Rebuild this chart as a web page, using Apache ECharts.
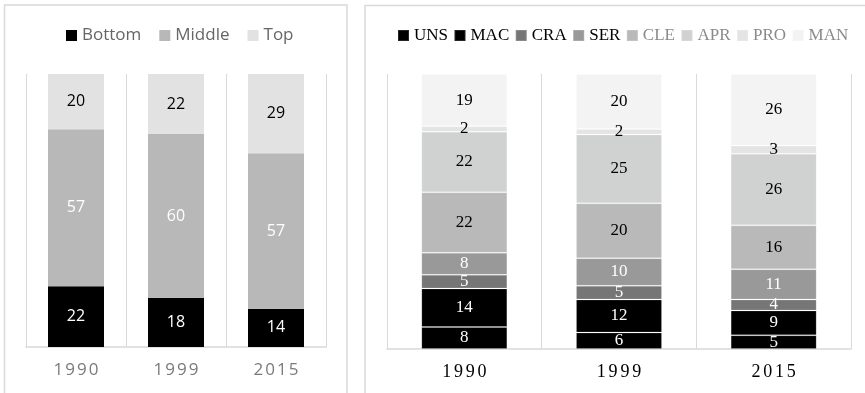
<!DOCTYPE html>
<html>
<head>
<meta charset="utf-8">
<script src="https://cdn.jsdelivr.net/npm/echarts@6/dist/echarts.min.js"></script>
<style>
  html, body { margin: 0; padding: 0; background: #fff; }
  #chart { width: 865px; height: 393px; }
</style>
</head>
<body>
<div id="chart"></div>
<script>
// Survey years shared by both panels
const years = ['1990', '1999', '2015'];

// Left panel: skill level shares
const levelNames = ['Bottom', 'Middle', 'Top'];
const levelBottom = [22, 18, 14];
const levelMiddle = [57, 60, 57];
const levelTop = [20, 22, 29];
const levelColors = ['#000000', '#b8b8b8', '#e2e2e2'];
const levelLabelColors = ['#ffffff', '#ffffff', '#000000'];

// Right panel: occupation group shares
const occNames = ['UNS', 'MAC', 'CRA', 'SER', 'CLE', 'APR', 'PRO', 'MAN'];
const occUNS = [8, 6, 5];
const occMAC = [14, 12, 9];
const occCRA = [5, 5, 4];
const occSER = [8, 10, 11];
const occCLE = [22, 20, 16];
const occAPR = [22, 25, 26];
const occPRO = [2, 2, 3];
const occMAN = [19, 20, 26];
const occColors = ['#000000', '#000000', '#767676', '#999999', '#b9b9b9', '#d0d1d1', '#e4e4e4', '#f3f3f3'];
const occLabelColors = ['#ffffff', '#ffffff', '#ffffff', '#ffffff', '#000000', '#000000', '#000000', '#000000'];
const occLegendColors = ['#000000', '#000000', '#000000', '#000000', '#8a8a8a', '#8a8a8a', '#8a8a8a', '#8a8a8a'];

const levelSeriesData = [levelBottom, levelMiddle, levelTop];
const occSeriesData = [occUNS, occMAC, occCRA, occSER, occCLE, occAPR, occPRO, occMAN];

// Convert raw values into 100%-stacked shares, keeping raw values for labels
function shares(groups) {
  const totals = years.map((_, i) => groups.reduce((s, g) => s + g[i], 0));
  return groups.map(g => g.map((v, i) => ({ value: v / totals[i] * 100, raw: v })));
}
const levelShares = shares(levelSeriesData);
const occShares = shares(occSeriesData);

const sansFont = '"Open Sans", "Liberation Sans", sans-serif';
const serifFont = '"Liberation Serif", "DejaVu Serif", serif';

// Spread digits of the year labels apart slightly
function spaced(v) {
  return v.split('').map(c => '{d|' + c + '}').join('');
}

const series = [];
levelNames.forEach((name, k) => {
  series.push({
    name: name,
    type: 'bar',
    stack: 'levels',
    xAxisIndex: 0,
    yAxisIndex: 0,
    barWidth: '56%',
    data: levelShares[k],
    itemStyle: { color: levelColors[k] },
    label: {
      show: true,
      position: 'inside',
      color: levelLabelColors[k],
      fontFamily: sansFont,
      fontSize: 16,
      formatter: p => String(p.data.raw)
    },
    emphasis: { disabled: true }
  });
});
occNames.forEach((name, k) => {
  series.push({
    name: name,
    type: 'bar',
    stack: 'occ',
    xAxisIndex: 1,
    yAxisIndex: 1,
    barWidth: '55.6%',
    data: occShares[k],
    itemStyle: {
      color: occColors[k],
      borderColor: 'rgba(255,255,255,0.15)',
      borderWidth: 1
    },
    label: {
      show: true,
      position: 'inside',
      color: occLabelColors[k],
      fontFamily: serifFont,
      fontSize: 17,
      formatter: p => String(p.data.raw)
    },
    emphasis: { disabled: true }
  });
});

const gridLine = '#d9d9d9';

const option = {
  animation: false,
  backgroundColor: '#ffffff',
  graphic: [
    {
      type: 'rect',
      shape: { x: 4.5, y: 5, width: 342.5, height: 410 },
      style: { fill: 'none', stroke: gridLine, lineWidth: 1.5 },
      silent: true
    },
    {
      type: 'rect',
      shape: { x: 365, y: 5.5, width: 520, height: 410 },
      style: { fill: 'none', stroke: gridLine, lineWidth: 1.5 },
      silent: true
    }
  ],
  legend: [
    {
      data: levelNames,
      left: 66,
      top: 27,
      padding: 0,
      itemWidth: 11,
      itemHeight: 11,
      itemGap: 18,
      icon: 'rect',
      selectedMode: false,
      textStyle: { color: '#666666', fontFamily: sansFont, fontSize: 17 }
    },
    {
      data: occNames.map((n, k) => ({ name: n, textStyle: { color: occLegendColors[k] } })),
      left: 397,
      top: 27,
      width: 468,
      padding: 0,
      itemWidth: 11,
      itemHeight: 11,
      itemGap: 5.5,
      icon: 'rect',
      selectedMode: false,
      textStyle: { fontFamily: serifFont, fontSize: 17 }
    }
  ],
  grid: [
    { left: 26, right: 539, top: 74, bottom: 46 },
    { left: 387, right: 14, top: 74, bottom: 44 }
  ],
  xAxis: [
    {
      type: 'category',
      gridIndex: 0,
      data: years,
      axisLine: { lineStyle: { color: gridLine, width: 1.5 } },
      axisTick: { show: false },
      splitLine: { show: true, lineStyle: { color: gridLine, width: 1 } },
      axisLabel: {
        interval: 0,
        margin: 15,
        formatter: spaced,
        rich: {
          d: { color: '#7a7a7a', fontFamily: sansFont, fontSize: 17, padding: [0, 1] }
        }
      }
    },
    {
      type: 'category',
      gridIndex: 1,
      data: years,
      axisLine: { lineStyle: { color: gridLine, width: 1.5 } },
      axisTick: { show: false },
      splitLine: { show: true, lineStyle: { color: gridLine, width: 1 } },
      axisLabel: {
        interval: 0,
        margin: 14,
        formatter: spaced,
        rich: {
          d: { color: '#000000', fontFamily: serifFont, fontSize: 18, padding: [0, 1.4] }
        }
      }
    }
  ],
  yAxis: [
    { type: 'value', gridIndex: 0, min: 0, max: 100, show: false, splitLine: { show: false } },
    { type: 'value', gridIndex: 1, min: 0, max: 100, show: false, splitLine: { show: false } }
  ],
  series: series
};

const chart = echarts.init(document.getElementById('chart'), null, { renderer: 'canvas' });
chart.setOption(option);
</script>
</body>
</html>
